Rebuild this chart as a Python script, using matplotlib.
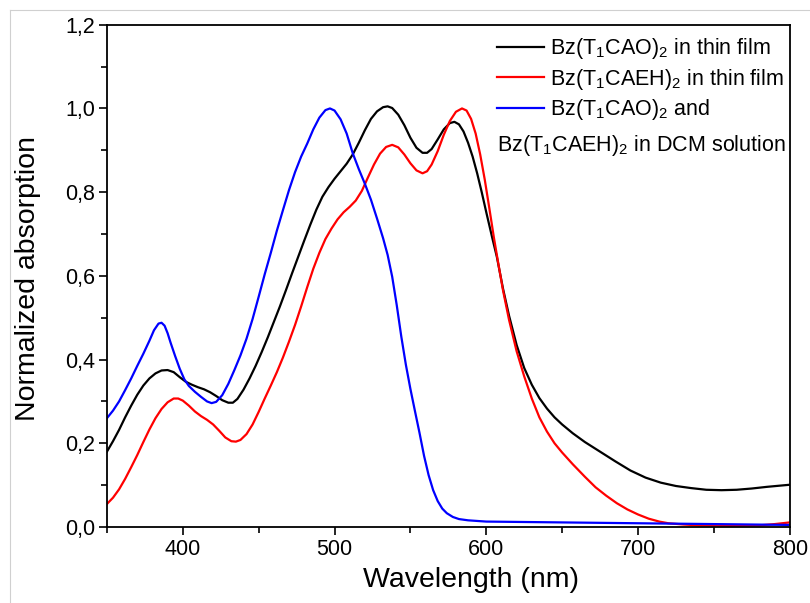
import matplotlib
matplotlib.use("Agg")
import matplotlib.pyplot as plt
from matplotlib.lines import Line2D
from matplotlib.ticker import MultipleLocator, FuncFormatter

plt.rcParams['font.family'] = ['Liberation Sans', 'DejaVu Sans']
plt.rcParams['mathtext.fontset'] = 'custom'
plt.rcParams['mathtext.rm'] = 'Liberation Sans'
plt.rcParams['mathtext.default'] = 'regular'

# Bz(T1CAO)2 thin film (black)
wl_cao_film = [350, 354, 358, 362, 366, 370, 374, 378, 382, 386, 390, 394, 398, 402, 406,
               410, 414, 418, 422, 426, 430, 433, 436, 440, 444, 448, 452, 456, 460, 464,
               468, 472, 476, 480, 484, 488, 492, 496, 500, 504, 508, 512, 516, 520, 524,
               528, 532, 535, 538, 542, 546, 550, 554, 558, 561, 564, 568, 572, 576, 579,
               582, 585, 588, 591, 594, 597, 600, 604, 607, 611, 615, 620, 625, 630, 635,
               640, 645, 650, 657, 665, 675, 685, 695, 705, 715, 725, 735, 745, 755, 765,
               775, 785, 800]
abs_cao_film = [0.180, 0.205, 0.232, 0.262, 0.290, 0.316, 0.338, 0.355, 0.367, 0.374,
                0.375, 0.370, 0.358, 0.347, 0.340, 0.334, 0.329, 0.322, 0.313, 0.303,
                0.297, 0.297, 0.306, 0.328, 0.355, 0.385, 0.418, 0.453, 0.490, 0.527,
                0.566, 0.606, 0.645, 0.684, 0.722, 0.758, 0.789, 0.812, 0.832, 0.850,
                0.868, 0.890, 0.918, 0.948, 0.975, 0.993, 1.003, 1.005, 1.001, 0.985,
                0.960, 0.930, 0.906, 0.894, 0.894, 0.903, 0.926, 0.950, 0.965, 0.968,
                0.962, 0.945, 0.918, 0.885, 0.845, 0.800, 0.752, 0.690, 0.645, 0.570,
                0.505, 0.435, 0.380, 0.340, 0.308, 0.283, 0.262, 0.245, 0.224, 0.203,
                0.180, 0.157, 0.135, 0.118, 0.106, 0.098, 0.093, 0.089, 0.088, 0.089,
                0.092, 0.096, 0.101]

# Bz(T1CAEH)2 thin film (red)
wl_caeh_film = [350, 354, 358, 362, 366, 370, 374, 378, 382, 386, 390, 394, 397, 400, 404,
                408, 412, 416, 420, 424, 428, 432, 435, 438, 442, 446, 450, 454, 458, 462,
                466, 470, 474, 478, 482, 486, 490, 494, 498, 502, 506, 510, 514, 518, 522,
                526, 530, 534, 538, 542, 546, 550, 554, 558, 561, 564, 568, 572, 576, 580,
                584, 587, 590, 593, 596, 599, 602, 605, 608, 611, 615, 620, 625, 630, 635,
                640, 645, 650, 657, 665, 672, 679, 686, 693, 700, 707, 714, 720, 730, 740,
                760, 780, 790, 800]
abs_caeh_film = [0.055, 0.070, 0.090, 0.115, 0.143, 0.172, 0.203, 0.233, 0.260, 0.282,
                 0.298, 0.307, 0.307, 0.302, 0.290, 0.276, 0.265, 0.256, 0.245, 0.230,
                 0.214, 0.205, 0.204, 0.208, 0.222, 0.245, 0.275, 0.307, 0.338, 0.370,
                 0.405, 0.443, 0.483, 0.527, 0.573, 0.617, 0.655, 0.688, 0.713, 0.735,
                 0.752, 0.765, 0.780, 0.803, 0.835, 0.866, 0.892, 0.908, 0.913, 0.907,
                 0.890, 0.869, 0.852, 0.845, 0.850, 0.866, 0.898, 0.937, 0.970, 0.992,
                 1.000, 0.995, 0.975, 0.940, 0.890, 0.830, 0.762, 0.692, 0.628, 0.566,
                 0.495, 0.420, 0.360, 0.307, 0.262, 0.228, 0.200, 0.178, 0.150, 0.120,
                 0.095, 0.075, 0.057, 0.042, 0.030, 0.020, 0.013, 0.009, 0.006, 0.004,
                 0.003, 0.004, 0.007, 0.011]

# Bz(T1CAO)2 and Bz(T1CAEH)2 in DCM solution (blue)
wl_dcm = [350, 354, 358, 362, 366, 370, 374, 378, 381, 384, 386, 388, 390, 392, 395, 398,
          401, 404, 408, 412, 416, 419, 422, 426, 430, 434, 438, 442, 446, 450, 454, 458,
          462, 466, 470, 474, 478, 482, 486, 490, 494, 497, 500, 504, 508, 512, 516, 520,
          524, 528, 532, 535, 538, 541, 544, 547, 550, 553, 556, 559, 562, 565, 568, 571,
          574, 578, 582, 588, 600, 650, 700, 750, 800]
abs_dcm = [0.260, 0.278, 0.300, 0.327, 0.355, 0.385, 0.414, 0.445, 0.470, 0.486, 0.488,
           0.481, 0.463, 0.440, 0.408, 0.378, 0.353, 0.337, 0.323, 0.311, 0.300, 0.296,
           0.299, 0.315, 0.342, 0.375, 0.410, 0.450, 0.497, 0.550, 0.604, 0.655, 0.708,
           0.757, 0.805, 0.848, 0.885, 0.916, 0.950, 0.978, 0.996, 1.000, 0.995, 0.974,
           0.940, 0.893, 0.855, 0.820, 0.782, 0.737, 0.690, 0.650, 0.598, 0.530, 0.455,
           0.388, 0.330, 0.277, 0.225, 0.170, 0.124, 0.088, 0.062, 0.044, 0.033, 0.024,
           0.019, 0.016, 0.013, 0.011, 0.009, 0.007, 0.005]

fig = plt.figure(figsize=(8.1, 6.03), dpi=100)
ax = fig.add_axes([0.132, 0.126, 0.843, 0.833])

# light grey frame of the original figure (top and left edges)
fig.add_artist(Line2D([10 / 810, 10 / 810], [0, 1 - 10 / 603], color='#d0d0d0', lw=0.8))
fig.add_artist(Line2D([10 / 810, 1], [1 - 10 / 603, 1 - 10 / 603], color='#d0d0d0', lw=0.8))

l1, = ax.plot(wl_cao_film, abs_cao_film, color='black', lw=1.6)
l2, = ax.plot(wl_caeh_film, abs_caeh_film, color='#ff0000', lw=1.6)
l3, = ax.plot(wl_dcm, abs_dcm, color='#0000ff', lw=1.6)

ax.set_xlim(350, 800)
ax.set_ylim(0, 1.2)
ax.xaxis.set_major_locator(MultipleLocator(100))
ax.xaxis.set_minor_locator(MultipleLocator(50))
ax.yaxis.set_major_locator(MultipleLocator(0.2))
ax.yaxis.set_minor_locator(MultipleLocator(0.1))
ax.yaxis.set_major_formatter(FuncFormatter(lambda v, p: f"{v:.1f}".replace('.', ',')))
ax.tick_params(which='both', direction='out', top=False, right=False, labelsize=15.5,
               width=1.2, pad=2.5)
ax.tick_params(which='major', length=6)
ax.tick_params(which='minor', length=4)
for s in ax.spines.values():
    s.set_linewidth(1.3)

ax.set_xlabel('Wavelength (nm)', fontsize=20.5)
ax.set_ylabel('Normalized absorption', fontsize=20.5)
ax.xaxis.set_label_coords(0.533, -0.079)
ax.yaxis.set_label_coords(-0.097, 0.495)

labels = [r'Bz(T$_1$CAO)$_2$ in thin film',
          r'Bz(T$_1$CAEH)$_2$ in thin film',
          r'Bz(T$_1$CAO)$_2$ and']
ax.legend([l1, l2, l3], labels, loc='upper left', bbox_to_anchor=(0.571, 0.977),
          frameon=False, fontsize=15.5, handlelength=2.2, handletextpad=0.25,
          labelspacing=0.25, borderpad=0, borderaxespad=0)
ax.text(0.571, 0.759, r'Bz(T$_1$CAEH)$_2$ in DCM solution', transform=ax.transAxes,
        fontsize=15.5, va='center', ha='left')

fig.savefig('out.png', dpi=100)
